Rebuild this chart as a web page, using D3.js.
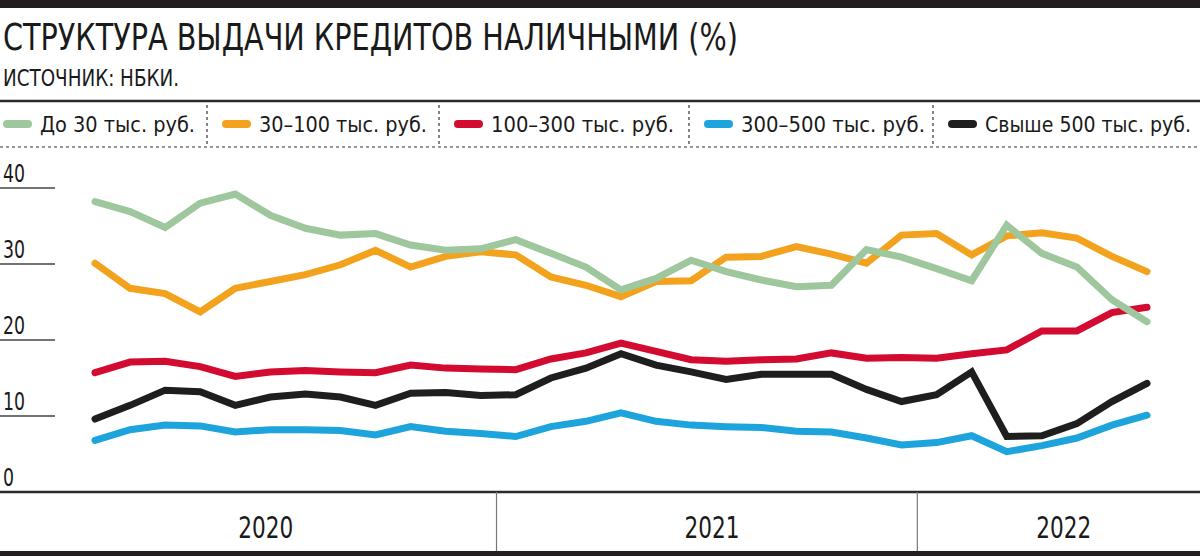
<!DOCTYPE html>
<html>
<head>
<meta charset="utf-8">
<script src="https://cdn.jsdelivr.net/npm/d3@7"></script>
<style>
  body { margin: 0; background: #fff; }
  text { font-family: "Liberation Sans Narrow", "DejaVu Sans Condensed", "Roboto", sans-serif; fill: #1a1a1a; }
</style>
</head>
<body>
<div id="chart"></div>
<script>
// data: Jan 2020 - Jul 2022, monthly, %
var months = ["01.2020","02.2020","03.2020","04.2020","05.2020","06.2020","07.2020","08.2020","09.2020","10.2020","11.2020","12.2020",
              "01.2021","02.2021","03.2021","04.2021","05.2021","06.2021","07.2021","08.2021","09.2021","10.2021","11.2021","12.2021",
              "01.2022","02.2022","03.2022","04.2022","05.2022","06.2022","07.2022"];
var years = ["2020","2021","2022"];
var yTicks = [0,10,20,30,40];

var seriesNames = ["До 30 тыс. руб.","30–100 тыс. руб.","100–300 тыс. руб.","300–500 тыс. руб.","Свыше 500 тыс. руб."];
var upTo30    = [38.2,36.9,34.8,38.0,39.2,36.4,34.7,33.8,34.0,32.5,31.8,32.0,33.2,31.4,29.6,26.6,28.1,30.5,29.0,27.9,27.0,27.2,31.9,30.9,29.4,27.8,35.1,31.4,29.6,25.3,22.4];
var from30    = [30.1,26.8,26.1,23.7,26.8,27.7,28.6,29.9,31.8,29.6,31.0,31.6,31.2,28.3,27.2,25.7,27.7,27.8,30.9,31.0,32.3,31.3,30.1,33.8,34.0,31.2,33.7,34.1,33.4,31.0,29.0];
var from100   = [15.7,17.1,17.2,16.5,15.2,15.8,16.0,15.8,15.7,16.7,16.3,16.2,16.1,17.5,18.3,19.6,18.5,17.4,17.2,17.4,17.5,18.3,17.6,17.7,17.6,18.2,18.7,21.2,21.2,23.6,24.3];
var from300   = [6.8,8.2,8.8,8.7,7.9,8.2,8.2,8.1,7.5,8.6,8.0,7.7,7.3,8.6,9.3,10.4,9.3,8.8,8.6,8.5,8.0,7.9,7.1,6.2,6.5,7.4,5.3,6.1,7.1,8.8,10.1];
var over500   = [9.6,11.4,13.4,13.2,11.4,12.5,12.9,12.5,11.4,13.0,13.1,12.7,12.8,15.0,16.3,18.2,16.7,15.8,14.8,15.5,15.5,15.5,13.5,11.9,12.8,15.8,7.3,7.4,9.0,11.9,14.3];

var colors = ["#9ec79e","#f3a21d","#d30b31","#1ea4dc","#1e1e1e"];

document.addEventListener('DOMContentLoaded', function(){
    makeChart();
}, false);

function makeChart(){
  var W = 1200, H = 556;
  var svg = d3.select("#chart").append("svg")
              .attr("width", W)
              .attr("height", H);

  var series = [upTo30, from30, from100, from300, over500];

  // header
  svg.append("rect").attr("x",0).attr("y",0).attr("width",W).attr("height",8).attr("fill","#231f20");
  svg.append("text")
     .attr("x",3).attr("y",50)
     .attr("font-size",38)
     .attr("textLength",735).attr("lengthAdjust","spacingAndGlyphs")
     .text("СТРУКТУРА ВЫДАЧИ КРЕДИТОВ НАЛИЧНЫМИ (%)");
  svg.append("text")
     .attr("x",3).attr("y",86)
     .attr("font-size",23)
     .attr("textLength",176).attr("lengthAdjust","spacingAndGlyphs")
     .text("ИСТОЧНИК: НБКИ.");
  svg.append("line").attr("x1",0).attr("x2",W).attr("y1",101).attr("y2",101)
     .attr("stroke","#2a2a2a").attr("stroke-width",2.5);

  // legend
  var sepX = [207,439,689,933];
  var textW = [155,168,183,184,206];
  var legend = svg.append("g").attr("class","legend");
  seriesNames.forEach(function(name,i){
      var x0 = i == 0 ? 3 : sepX[i-1] + 15;
      legend.append("line")
          .attr("x1",x0+4).attr("x2",x0+25)
          .attr("y1",124).attr("y2",124)
          .attr("stroke",colors[i]).attr("stroke-width",8).attr("stroke-linecap","round");
      legend.append("text")
          .attr("x",x0+37).attr("y",132)
          .attr("font-size",21)
          .attr("textLength",textW[i]).attr("lengthAdjust","spacingAndGlyphs")
          .text(name);
  });
  legend.selectAll(".sep")
      .data(sepX)
      .enter().append("line")
      .attr("class","sep")
      .attr("x1",function(d){return d}).attr("x2",function(d){return d})
      .attr("y1",105).attr("y2",146)
      .attr("stroke","#333").attr("stroke-width",1.2).attr("stroke-dasharray","3,3");
  svg.append("line").attr("x1",0).attr("x2",W).attr("y1",147).attr("y2",147)
     .attr("stroke","#333").attr("stroke-width",1.2).attr("stroke-dasharray","3,3");

  // scales
  var xScale = d3.scaleLinear().domain([0, months.length-1]).range([95,1147]);
  var yScale = d3.scaleLinear().domain([0,40]).range([492,188]);

  // y axis: short gridlines with labels above
  var yAxis = svg.append("g").attr("class","y axis");
  yAxis.selectAll(".grid")
      .data(yTicks.filter(function(d){return d > 0}))
      .enter().append("line")
      .attr("class","grid")
      .attr("x1",0).attr("x2",55)
      .attr("y1",function(d){return yScale(d)}).attr("y2",function(d){return yScale(d)})
      .attr("stroke","#444").attr("stroke-width",1.5);
  yAxis.selectAll(".lbl")
      .data(yTicks)
      .enter().append("text")
      .attr("class","lbl")
      .attr("x",3)
      .attr("y",function(d){return yScale(d) - 6})
      .attr("font-size",24)
      .attr("textLength",function(d){return String(d).length * 11})
      .attr("lengthAdjust","spacingAndGlyphs")
      .text(function(d){return d});

  // lines
  var line = d3.line()
              .x(function(d,i){return xScale(i)})
              .y(function(d){return yScale(d)});
  var order = [4,3,2,1,0];
  order.forEach(function(k){
      svg.append("path")
         .datum(series[k])
         .attr("fill","none")
         .attr("stroke",colors[k])
         .attr("stroke-width",7)
         .attr("stroke-linecap","round")
         .attr("d",line);
  });

  // x axis: year bands
  var firstIdx = years.map(function(y){return months.findIndex(function(m){return m.slice(3) == y})});
  var breaks = firstIdx.slice(1).map(function(i){return xScale(i - 0.55)});
  var edges = [xScale(-2)].concat(breaks).concat([W]);
  svg.append("line").attr("x1",0).attr("x2",W).attr("y1",yScale(0)).attr("y2",yScale(0))
     .attr("stroke","#2a2a2a").attr("stroke-width",2.5);
  svg.selectAll(".ybreak")
      .data(breaks)
      .enter().append("line")
      .attr("class","ybreak")
      .attr("x1",function(d){return d}).attr("x2",function(d){return d})
      .attr("y1",yScale(0)).attr("y2",551)
      .attr("stroke","#777").attr("stroke-width",1.2);
  svg.selectAll(".year")
      .data(years)
      .enter().append("text")
      .attr("class","year")
      .attr("x",function(d,i){return (edges[i] + edges[i+1]) / 2 + 5})
      .attr("y",538)
      .attr("text-anchor","middle")
      .attr("font-size",30)
      .attr("textLength",55).attr("lengthAdjust","spacingAndGlyphs")
      .text(function(d){return d});
  svg.append("rect").attr("x",0).attr("y",551).attr("width",W).attr("height",5).attr("fill","#231f20");
}
</script>
</body>
</html>
